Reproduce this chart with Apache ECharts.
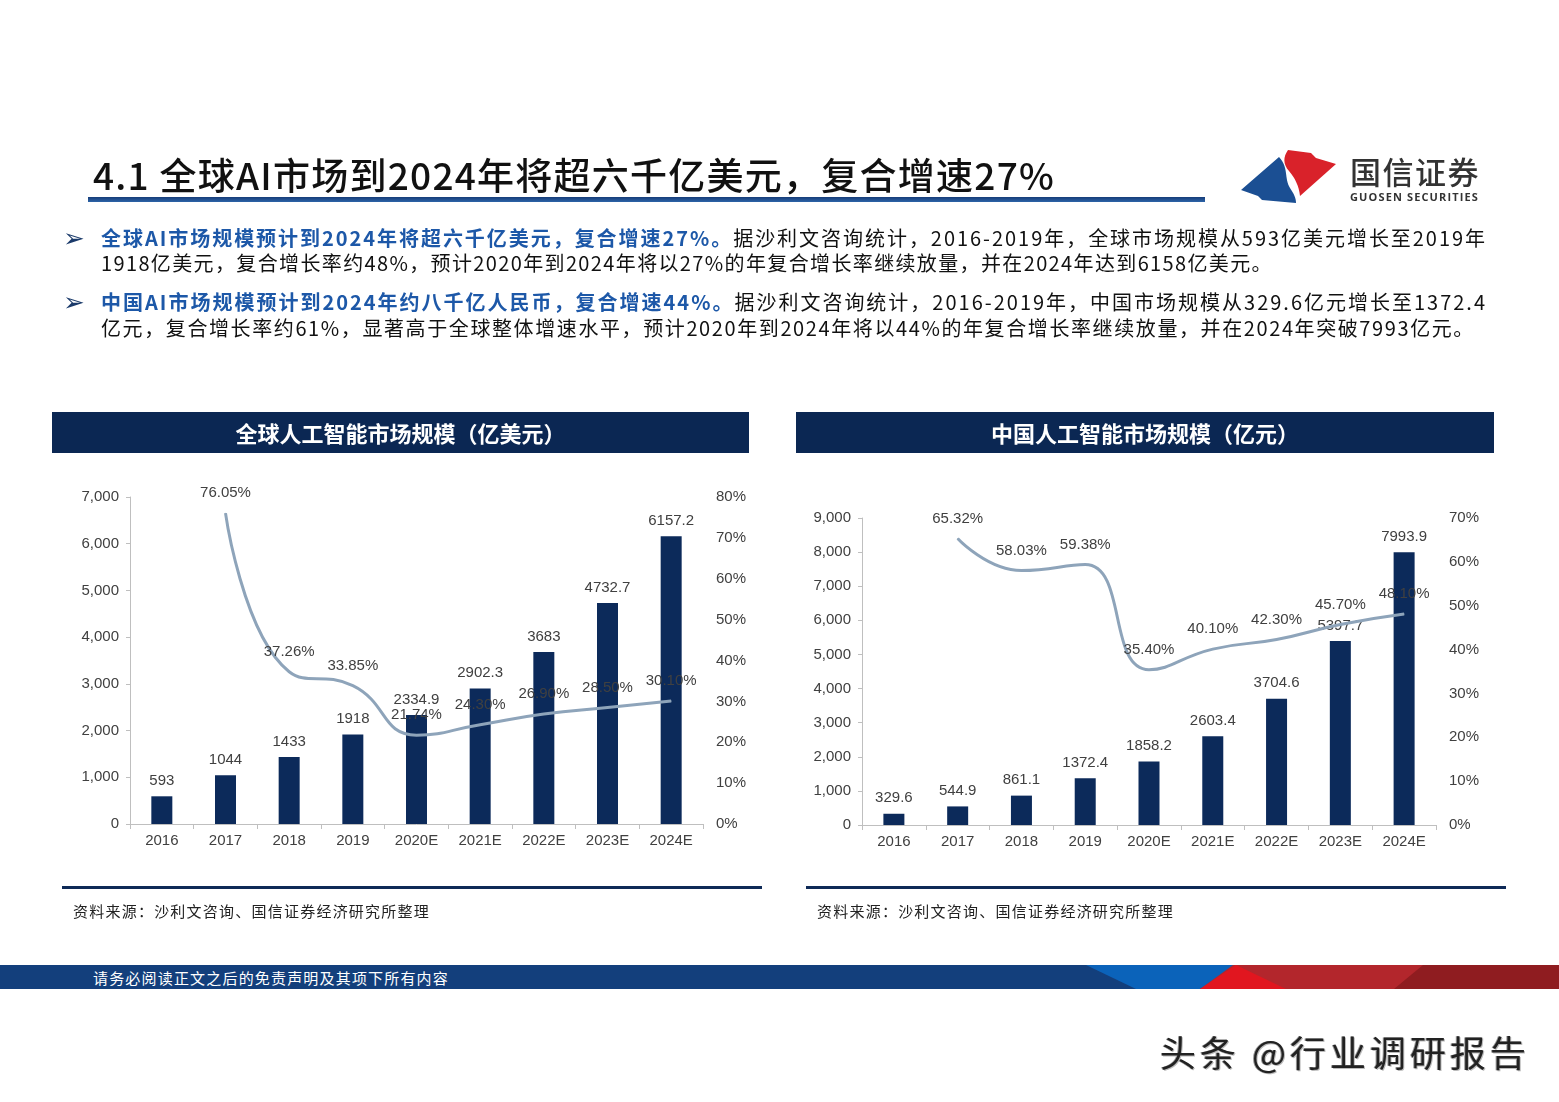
<!DOCTYPE html>
<html>
<head>
<meta charset="utf-8">
<script src="https://cdn.jsdelivr.net/npm/echarts@6/dist/echarts.min.js"></script>
<style>
  html,body{margin:0;padding:0;background:#fff;}
  body{width:1559px;height:1102px;position:relative;overflow:hidden;font-family:"Noto Sans CJK SC","Noto Sans",sans-serif;}
  #chart{position:absolute;left:0;top:0;width:1559px;height:1102px;z-index:0;}
  .t{position:absolute;white-space:nowrap;z-index:2;}
  .blk{position:absolute;z-index:1;}
  .b{color:#1d58a8;font-weight:700;}
</style>
</head>
<body>
<div id="chart"></div>

<!-- title -->
<div class="t fit" data-w="962" style="left:93px;top:151px;font-size:37px;line-height:46px;font-weight:500;color:#111;">4.1 全球AI市场到2024年将超六千亿美元，复合增速27%</div>
<div class="blk" style="left:88px;top:197px;width:1117px;height:5px;background:linear-gradient(#163c78,#2d64a8);"></div>

<!-- logo -->
<svg class="blk" style="left:0;top:0;" width="1559" height="260">
  <path d="M1241,190 L1279,157 C1289,168 1284,178 1290,188 C1294,194 1296,198 1296,203 L1262,200 L1258,196 Z" fill="#1b4f93"/>
  <path d="M1288,150 L1311,153 L1316,158 L1336,164 L1300,196 C1299,186 1295,178 1289,171 C1283,164 1283,157 1288,150 Z" fill="#d9222a"/>
</svg>
<div class="t fit" data-w="130" style="left:1350px;top:152px;font-size:31px;line-height:38px;font-weight:500;color:#333;">国信证券</div>
<div class="t fit" data-w="129" style="left:1350px;top:189px;font-size:11px;line-height:16px;font-weight:700;color:#333;font-family:'Open Sans',sans-serif;">GUOSEN SECURITIES</div>

<!-- bullets -->
<div class="t" style="left:63px;top:221px;font-size:26px;line-height:34px;color:#1a3a6a;font-family:'DejaVu Sans';">➢</div>
<div class="t fit" data-w="1386" style="left:101px;top:225px;font-size:20px;line-height:26px;color:#111;"><span class="b">全球AI市场规模预计到2024年将超六千亿美元，复合增速27%。</span>据沙利文咨询统计，2016-2019年，全球市场规模从593亿美元增长至2019年</div>
<div class="t fit" data-w="1172" style="left:101px;top:250px;font-size:20px;line-height:26px;color:#111;">1918亿美元，复合增长率约48%，预计2020年到2024年将以27%的年复合增长率继续放量，并在2024年达到6158亿美元。</div>
<div class="t" style="left:63px;top:285px;font-size:26px;line-height:34px;color:#1a3a6a;font-family:'DejaVu Sans';">➢</div>
<div class="t fit" data-w="1386" style="left:101px;top:289px;font-size:20px;line-height:26px;color:#111;"><span class="b">中国AI市场规模预计到2024年约八千亿人民币，复合增速44%。</span>据沙利文咨询统计，2016-2019年，中国市场规模从329.6亿元增长至1372.4</div>
<div class="t fit" data-w="1374" style="left:101px;top:315px;font-size:20px;line-height:26px;color:#111;">亿元，复合增长率约61%，显著高于全球整体增速水平，预计2020年到2024年将以44%的年复合增长率继续放量，并在2024年突破7993亿元。</div>

<!-- chart headers -->
<div class="blk" style="left:52px;top:412px;width:697px;height:41px;background:#0b2753;"></div>
<div class="t" style="left:52px;top:412px;width:697px;text-align:center;font-size:22px;line-height:41px;font-weight:700;color:#fff;">全球人工智能市场规模（亿美元）</div>
<div class="blk" style="left:796px;top:412px;width:698px;height:41px;background:#0b2753;"></div>
<div class="t" style="left:796px;top:412px;width:698px;text-align:center;font-size:22px;line-height:41px;font-weight:700;color:#fff;">中国人工智能市场规模（亿元）</div>

<!-- bottom separators and sources -->
<div class="blk" style="left:62px;top:886px;width:700px;height:3px;background:#0e2a57;"></div>
<div class="blk" style="left:806px;top:886px;width:700px;height:3px;background:#0e2a57;"></div>
<div class="t fit" data-w="357" style="left:73px;top:900px;font-size:15px;line-height:22px;color:#222;">资料来源：沙利文咨询、国信证券经济研究所整理</div>
<div class="t fit" data-w="357" style="left:817px;top:900px;font-size:15px;line-height:22px;color:#222;">资料来源：沙利文咨询、国信证券经济研究所整理</div>

<!-- footer band -->
<svg class="blk" style="left:0;top:965px;" width="1559" height="24">
  <rect x="0" y="0" width="1559" height="24" fill="#133f7c"/>
  <polygon points="1086,0 1240,0 1200,24 1136,24" fill="#0b63ba"/>
  <polygon points="1233,0 1559,0 1559,24 1200,24" fill="#b3262c"/>
  <polygon points="1200,24 1236,0 1286,24" fill="#e1161f"/>
  <polygon points="1423,0 1559,0 1559,24 1394,24" fill="#8f1c20"/>
</svg>
<div class="t fit" data-w="356" style="left:93px;top:967px;font-size:15px;line-height:22px;color:#fff;">请务必阅读正文之后的免责声明及其项下所有内容</div>

<!-- watermark -->
<div class="t fit" data-w="370" style="left:1160px;top:1028px;font-size:36px;line-height:46px;color:#222;text-shadow:1px 1px 0 #bbb,-1px 0 0 #999;">头条 @行业调研报告</div>

<script>
const categories = ['2016','2017','2018','2019','2020E','2021E','2022E','2023E','2024E'];
const globalSize = [593, 1044, 1433, 1918, 2334.9, 2902.3, 3683, 4732.7, 6157.2];
const globalGrowth = [null, 76.05, 37.26, 33.85, 21.74, 24.30, 26.90, 28.50, 30.10];
const chinaSize = [329.6, 544.9, 861.1, 1372.4, 1858.2, 2603.4, 3704.6, 5397.7, 7993.9];
const chinaGrowth = [null, 65.32, 58.03, 59.38, 35.40, 40.10, 42.30, 45.70, 48.10];

const AXIS_COLOR = '#bfbfbf';
const TEXT_COLOR = '#404040';
const BAR_COLOR = '#0c2a5a';
const LINE_COLOR = '#8ea4ba';
const FONT = 'Liberation Sans, Arial, sans-serif';

function xAxisCfg(gi) {
  return {
    type: 'category', gridIndex: gi, data: categories, boundaryGap: true,
    axisLine: { show: true, lineStyle: { color: AXIS_COLOR, width: 1 } },
    axisTick: { show: true, length: 5, lineStyle: { color: AXIS_COLOR } },
    axisLabel: { color: TEXT_COLOR, fontSize: 15, fontFamily: FONT, margin: 9, interval: 0 }
  };
}
function leftY(gi, max) {
  return {
    type: 'value', gridIndex: gi, min: 0, max: max, interval: 1000, position: 'left',
    axisLine: { show: true, lineStyle: { color: AXIS_COLOR } },
    axisTick: { show: true, length: 4, lineStyle: { color: AXIS_COLOR } },
    splitLine: { show: false },
    axisLabel: { color: TEXT_COLOR, fontSize: 15, fontFamily: FONT, margin: 11,
      formatter: v => v.toLocaleString('en-US') }
  };
}
function rightY(gi, max) {
  return {
    type: 'value', gridIndex: gi, min: 0, max: max, interval: 10, position: 'right',
    axisLine: { show: false }, axisTick: { show: false }, splitLine: { show: false },
    axisLabel: { color: TEXT_COLOR, fontSize: 15, fontFamily: FONT, margin: 13, formatter: '{value}%' }
  };
}
function barSeries(gi, yi, data) {
  return {
    type: 'bar', xAxisIndex: gi, yAxisIndex: yi, data: data, barWidth: 21,
    itemStyle: { color: BAR_COLOR },
    label: { show: true, position: 'top', distance: 8, color: TEXT_COLOR, fontSize: 15, fontFamily: FONT,
      formatter: p => String(p.value) },
    z: 2
  };
}
function lineSeries(gi, yi, data) {
  return {
    type: 'line', xAxisIndex: gi, yAxisIndex: yi, data: data, smooth: 0.5,
    symbol: 'circle', symbolSize: 1, showSymbol: true,
    itemStyle: { color: LINE_COLOR },
    lineStyle: { color: LINE_COLOR, width: 3 },
    label: { show: true, position: 'top', distance: 12, color: TEXT_COLOR, fontSize: 15, fontFamily: FONT,
      formatter: p => (p.value == null ? '' : Number(p.value).toFixed(2) + '%') },
    z: 3
  };
}

const chart = echarts.init(document.getElementById('chart'), null, { renderer: 'canvas' });
chart.setOption({
  animation: false,
  backgroundColor: 'transparent',
  grid: [
    { left: 130, top: 497, width: 573, height: 327 },
    { left: 862, top: 518, width: 574, height: 307 }
  ],
  xAxis: [xAxisCfg(0), xAxisCfg(1)],
  yAxis: [leftY(0, 7000), rightY(0, 80), leftY(1, 9000), rightY(1, 70)],
  series: [
    barSeries(0, 0, globalSize),
    lineSeries(0, 1, globalGrowth),
    barSeries(1, 2, chinaSize),
    lineSeries(1, 3, chinaGrowth)
  ]
});

function fitAll() {
  document.querySelectorAll('.fit').forEach(el => {
    el.style.letterSpacing = '0px';
    const w = el.getBoundingClientRect().width;
    const target = parseFloat(el.dataset.w);
    const n = Array.from(el.textContent).length;
    const ls = (target - w) / n;
    el.style.letterSpacing = ls.toFixed(3) + 'px';
  });
}
fitAll();
if (document.fonts && document.fonts.ready) document.fonts.ready.then(fitAll);
</script>
</body>
</html>
